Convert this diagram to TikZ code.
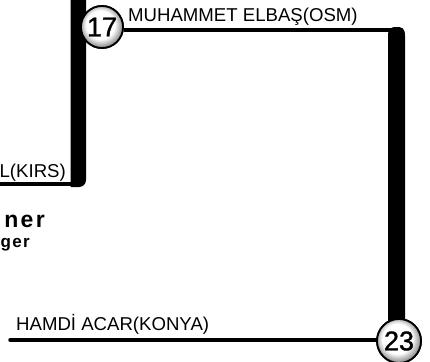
\documentclass[tikz,border=0pt]{standalone}
\usepackage{fontspec}
\setmainfont{Liberation Sans}
\pgfdeclareradialshading{rimball}{\pgfpoint{-3bp}{4bp}}{color(0bp)=(white);color(17bp)=(white);color(25bp)=(black!40);color(50bp)=(black!40)}
\tikzset{
  lbl/.style={inner sep=0pt, font=\fontsize{18.6}{20}\selectfont},
  numball/.style={circle, draw=black, line width=1.8pt, shading=rimball, minimum size=42pt, inner sep=0pt, font=\fontsize{27}{28}\selectfont\addfontfeatures{FakeBold=1.2}},
  thinline/.style={line width=3.5pt},
}
\begin{document}
\begin{tikzpicture}[x=1pt,y=-1pt]
\useasboundingbox (0,0) rectangle (430,361);
% left thick bar with rounded bottom corner
\fill[black] (70.5,-10) -- (70.5,187) [rounded corners=7pt]-- (86,187) -- (86,-10) -- cycle;
\coordinate (kirsL) at (-2,184);
\coordinate (kirsR) at (78,184);
\draw[thinline] (kirsL) -- (kirsR);
% right thick bar
\fill[black] (388,341) -- (388,36) .. controls (388,28) and (391,27) .. (396.5,27) .. controls (402,27) and (405,28) .. (405,36) -- (405,341) -- cycle;
% number balls
\node[numball] (n17) at (102,27) {17};
\node[numball, minimum size=44pt] (n23) at (399,341) {23};
% connectors
\coordinate (tr) at (397,30);
\draw[thinline] (n17.east |- tr) -- (tr);
\coordinate (bl) at (10,340);
\draw[thinline, line cap=round] (bl) -- (n23.west |- bl);
\node[numball, minimum size=44pt] at (n23) {23};
\node[numball] at (n17) {17};
% labels
\node[lbl, anchor=base west] (t17) at (128,22) {MUHAMMET ELBAŞ(OSM)};
\node[lbl, anchor=base east] (tk) at (66,177) {L(KIRS)};
\node[lbl, anchor=base west] (t23) at (16,330) {HAMDİ ACAR(KONYA)};
\node[inner sep=0pt, anchor=base east, font=\fontsize{23}{24}\selectfont\bfseries\addfontfeatures{LetterSpace=10}] (ner) at (45,227) {ner};
\node[inner sep=0pt, anchor=base east, font=\fontsize{17}{18}\selectfont\bfseries\addfontfeatures{LetterSpace=8}] (ger) at (30,247) {ger};
\end{tikzpicture}
\end{document}
